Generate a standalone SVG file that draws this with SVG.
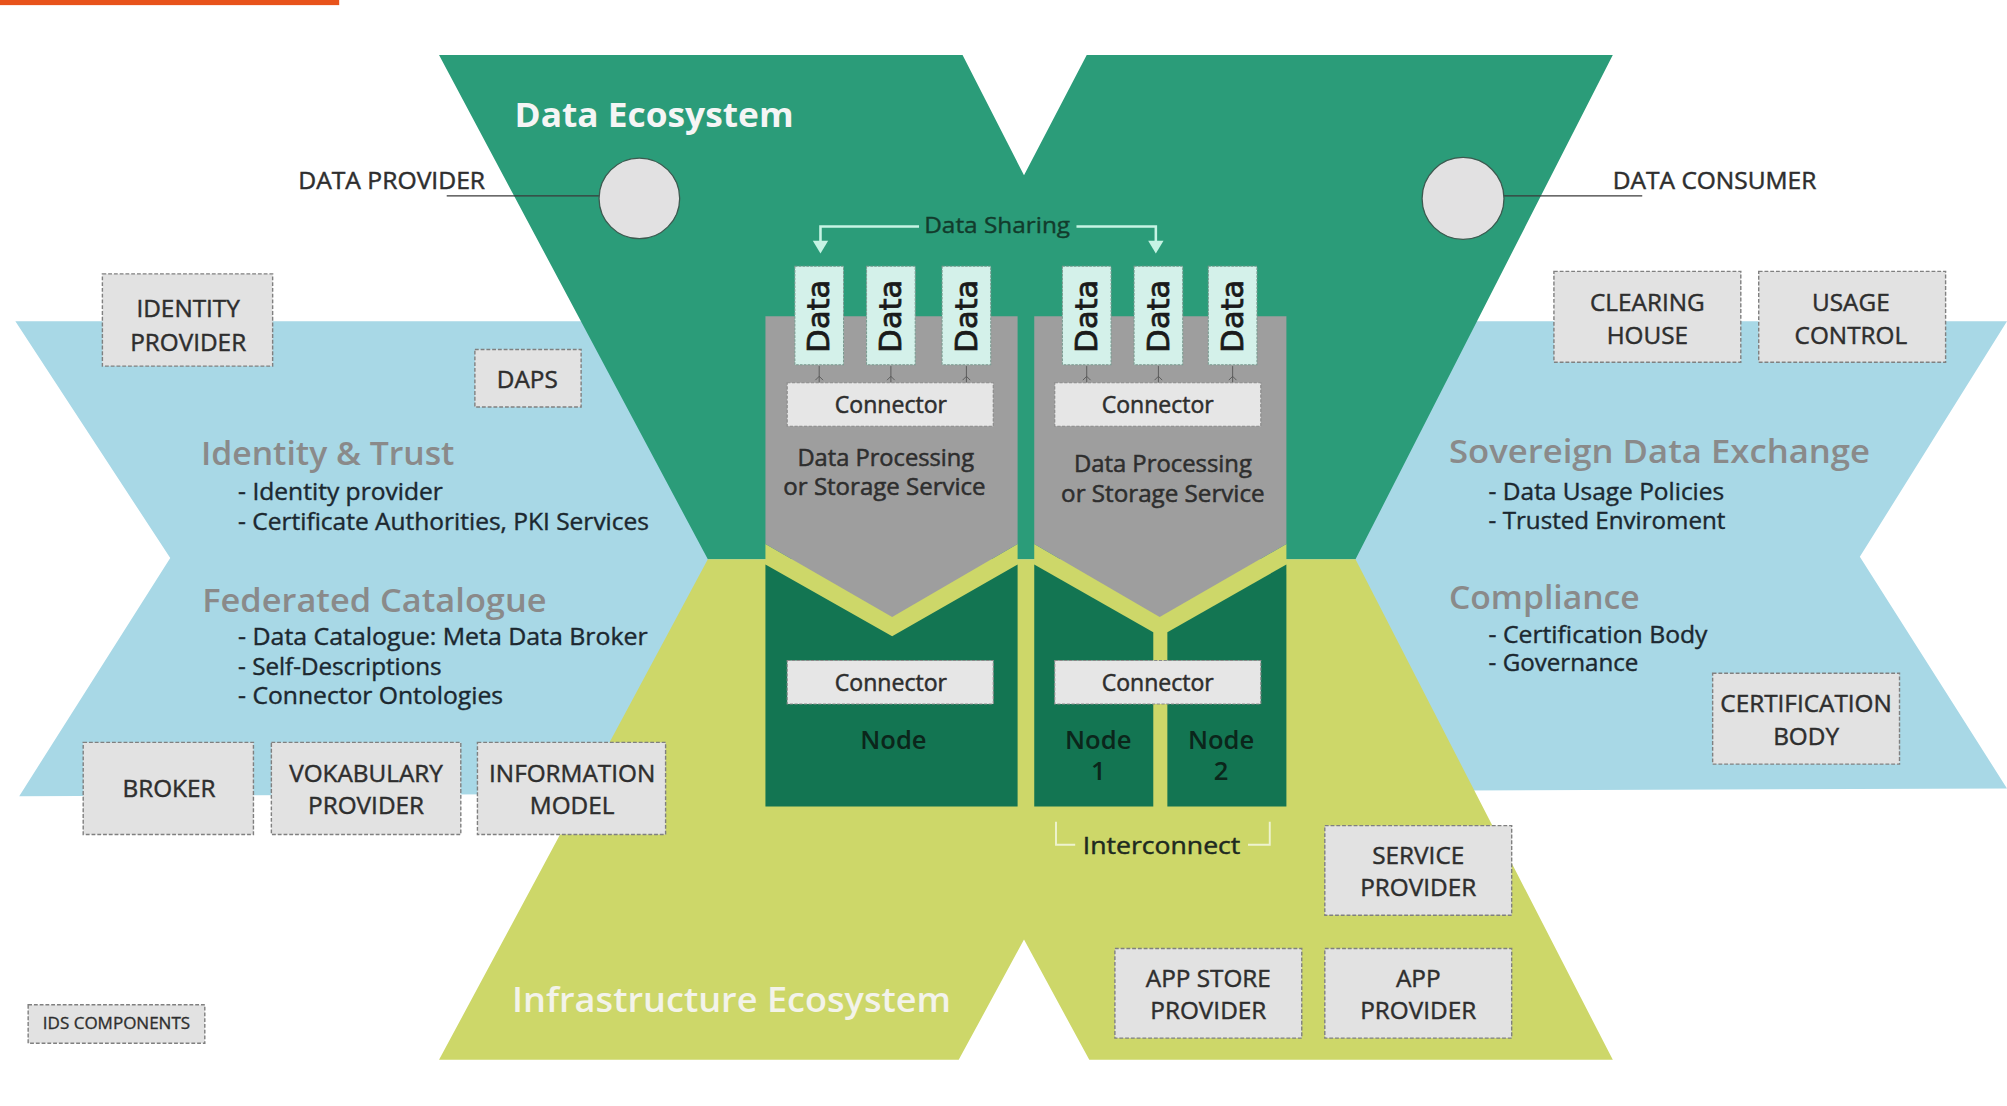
<svg xmlns="http://www.w3.org/2000/svg" width="2007" height="1106" viewBox="0 0 2007 1106">
<style>
text{font-family:"Open Sans","Liberation Sans",sans-serif}
.box{fill:#e2e2e2;stroke:#808080;stroke-width:1.1;stroke-dasharray:3 1.5}
.bl{font-size:19px;fill:#2e2e2e;stroke:#2e2e2e;stroke-width:0.35;text-anchor:middle}
.hd{font-size:25px;font-weight:600;fill:#8a8a8a}
.bu{font-size:18px;fill:#1c2830;stroke:#1c2830;stroke-width:0.3}
.ctr{font-size:18px;fill:#2e2e2e;stroke:#2e2e2e;stroke-width:0.4;text-anchor:middle}
.cell{fill:#d4f1ea;stroke:#7a9a90;stroke-width:0.8;stroke-dasharray:2 1}
.dt{font-family:"DejaVu Sans",sans-serif;font-size:23px;fill:#1a1a1a;stroke:#1a1a1a;stroke-width:0.6;text-anchor:middle}
.node{font-size:20px;font-weight:600;fill:#0b261b;text-anchor:middle}
.conbox{fill:#e6e6e6;stroke:#8a8a8a;stroke-width:0.9;stroke-dasharray:2.5 1.2}
.lead{stroke:#3a3a3a;stroke-width:0.9;fill:none}
.share{stroke:#c6f3e4;stroke-width:2;fill:none}
.tiny{stroke:#555;stroke-width:0.7;fill:none}
</style>
<rect width="2007" height="1106" fill="#ffffff"/>
<g transform="scale(1.28)">
<g id="background">
<rect x="0" y="0" width="265" height="4" fill="#e8531b"/>
<polygon points="12,251 1568,251 1453,435 1568,616 15,622 133,436" fill="#a8d8e6"/>
<polygon points="343,43 752,43 800,137 849,43 1260,43 1059,437 553,437" fill="#2b9c79"/>
<polygon points="553,437 1059,437 1260,828 851,828 800,734 749,828 343,828" fill="#cdd769"/>
<text x="402" y="99" font-size="27" font-weight="700" fill="#f5f5f5" textLength="218" lengthAdjust="spacingAndGlyphs">Data Ecosystem</text>
<text x="400" y="791" font-size="27" font-weight="600" fill="#f3f3ea" textLength="343" lengthAdjust="spacingAndGlyphs">Infrastructure Ecosystem</text>
</g>
<g id="connectors">
<line class="lead" x1="349" y1="153" x2="468" y2="153"/>
<line class="lead" x1="1175" y1="153" x2="1283" y2="153"/>
<path class="share" d="M718,177 H641 V190 M841,177 H903 V190"/>
<polygon points="635,188 647,188 641,198" fill="#c6f3e4"/>
<polygon points="897,188 909,188 903,198" fill="#c6f3e4"/>
<path d="M825,642 V660 H840 M975,660 H992 V642" stroke="#eef3cf" stroke-width="1.5" fill="none"/>
</g>
<g id="data-provider">
<circle cx="499.5" cy="155" r="31.5" fill="#e2e1e2" stroke="#3d5a50" stroke-width="1"/>
<text x="233" y="148" font-size="18" fill="#2e2e2e" stroke="#2e2e2e" stroke-width="0.35" textLength="146" lengthAdjust="spacingAndGlyphs">DATA PROVIDER</text>
</g>
<g id="data-consumer">
<circle cx="1143" cy="155" r="32" fill="#e2e1e2" stroke="#3d5a50" stroke-width="1"/>
<text x="1260" y="148" font-size="18" fill="#2e2e2e" stroke="#2e2e2e" stroke-width="0.35" textLength="159" lengthAdjust="spacingAndGlyphs">DATA CONSUMER</text>
</g>
<g id="identity-trust">
<text class="hd" x="157" y="363" textLength="198" lengthAdjust="spacingAndGlyphs">Identity &amp; Trust</text>
<text class="bu" x="186" y="391" textLength="160" lengthAdjust="spacingAndGlyphs">- Identity provider</text>
<text class="bu" x="186" y="414" textLength="321" lengthAdjust="spacingAndGlyphs">- Certificate Authorities, PKI Services</text>
</g>
<g id="federated-catalogue">
<text class="hd" x="158" y="478" textLength="269" lengthAdjust="spacingAndGlyphs">Federated Catalogue</text>
<text class="bu" x="186" y="504" textLength="320" lengthAdjust="spacingAndGlyphs">- Data Catalogue: Meta Data Broker</text>
<text class="bu" x="186" y="527" textLength="159" lengthAdjust="spacingAndGlyphs">- Self-Descriptions</text>
<text class="bu" x="186" y="550" textLength="207" lengthAdjust="spacingAndGlyphs">- Connector Ontologies</text>
</g>
<g id="sovereign-data-exchange">
<text class="hd" x="1132" y="362" textLength="329" lengthAdjust="spacingAndGlyphs">Sovereign Data Exchange</text>
<text class="bu" x="1163" y="391" textLength="184" lengthAdjust="spacingAndGlyphs">- Data Usage Policies</text>
<text class="bu" x="1163" y="413" textLength="185" lengthAdjust="spacingAndGlyphs">- Trusted Enviroment</text>
</g>
<g id="compliance">
<text class="hd" x="1132" y="476" textLength="149" lengthAdjust="spacingAndGlyphs">Compliance</text>
<text class="bu" x="1163" y="502" textLength="171" lengthAdjust="spacingAndGlyphs">- Certification Body</text>
<text class="bu" x="1163" y="524" textLength="117" lengthAdjust="spacingAndGlyphs">- Governance</text>
</g>
<g id="identity-provider"><rect class="box" x="80" y="214" width="133" height="72"/><text class="bl" x="147" y="248">IDENTITY</text><text class="bl" x="147" y="274">PROVIDER</text></g>
<g id="daps"><rect class="box" x="371" y="273" width="83" height="45"/><text class="bl" x="412" y="303">DAPS</text></g>
<g id="clearing-house"><rect class="box" x="1214" y="212" width="146" height="71"/><text class="bl" x="1287" y="243">CLEARING</text><text class="bl" x="1287" y="269">HOUSE</text></g>
<g id="usage-control"><rect class="box" x="1374" y="212" width="146" height="71"/><text class="bl" x="1446" y="243">USAGE</text><text class="bl" x="1446" y="269">CONTROL</text></g>
<g id="certification-body"><rect class="box" x="1338" y="526" width="146" height="71"/><text class="bl" x="1411" y="556">CERTIFICATION</text><text class="bl" x="1411" y="582">BODY</text></g>
<g id="broker"><rect class="box" x="65" y="580" width="133" height="72"/><text class="bl" x="132" y="623">BROKER</text></g>
<g id="vokabulary-provider"><rect class="box" x="212" y="580" width="148" height="72"/><text class="bl" x="286" y="611">VOKABULARY</text><text class="bl" x="286" y="636">PROVIDER</text></g>
<g id="information-model"><rect class="box" x="373" y="580" width="147" height="72"/><text class="bl" x="447" y="611">INFORMATION</text><text class="bl" x="447" y="636">MODEL</text></g>
<g id="service-provider"><rect class="box" x="1035" y="645" width="146" height="70"/><text class="bl" x="1108" y="675">SERVICE</text><text class="bl" x="1108" y="700">PROVIDER</text></g>
<g id="app-store-provider"><rect class="box" x="871" y="741" width="146" height="70"/><text class="bl" x="944" y="771">APP STORE</text><text class="bl" x="944" y="796">PROVIDER</text></g>
<g id="app-provider"><rect class="box" x="1035" y="741" width="146" height="70"/><text class="bl" x="1108" y="771">APP</text><text class="bl" x="1108" y="796">PROVIDER</text></g>
<g id="ids-components"><rect class="box" x="22" y="785" width="138" height="30"/><text class="bl" x="91" y="804" textLength="115" lengthAdjust="spacingAndGlyphs" style="font-size:12.5px;stroke-width:0.25">IDS COMPONENTS</text></g>
<g id="service-left">
<polygon points="598,425 697,482 795,425 795,441 697,497 598,441" fill="#cdd769"/>
<polygon points="598,247 795,247 795,425 697,482 598,425" fill="#9e9e9e"/>
<rect class="cell" x="621" y="208" width="38" height="77"/>
<rect class="cell" x="677" y="208" width="38" height="77"/>
<rect class="cell" x="736" y="208" width="38" height="77"/>
<text class="dt" transform="translate(648,247) rotate(-90)" textLength="57" lengthAdjust="spacingAndGlyphs">Data</text>
<text class="dt" transform="translate(704,247) rotate(-90)" textLength="57" lengthAdjust="spacingAndGlyphs">Data</text>
<text class="dt" transform="translate(763,247) rotate(-90)" textLength="57" lengthAdjust="spacingAndGlyphs">Data</text>
<path class="tiny" d="M640,286 V299 M637,297 L640,294 L643,297 M696,286 V299 M693,297 L696,294 L699,297 M755,286 V299 M752,297 L755,294 L758,297"/>
<rect class="conbox" x="615" y="299" width="161" height="34"/>
<text class="ctr" x="696" y="323">Connector</text>
<text class="ctr" x="692" y="364" textLength="138" lengthAdjust="spacingAndGlyphs">Data Processing</text>
<text class="ctr" x="691" y="387" textLength="158" lengthAdjust="spacingAndGlyphs">or Storage Service</text>
</g>
<g id="service-right">
<polygon points="808,425 906,482 1005,425 1005,441 906,497 808,441" fill="#cdd769"/>
<polygon points="808,247 1005,247 1005,425 906,482 808,425" fill="#9e9e9e"/>
<rect class="cell" x="830" y="208" width="38" height="77"/>
<rect class="cell" x="886" y="208" width="38" height="77"/>
<rect class="cell" x="944" y="208" width="38" height="77"/>
<text class="dt" transform="translate(857,247) rotate(-90)" textLength="57" lengthAdjust="spacingAndGlyphs">Data</text>
<text class="dt" transform="translate(913,247) rotate(-90)" textLength="57" lengthAdjust="spacingAndGlyphs">Data</text>
<text class="dt" transform="translate(971,247) rotate(-90)" textLength="57" lengthAdjust="spacingAndGlyphs">Data</text>
<path class="tiny" d="M849,286 V299 M846,297 L849,294 L852,297 M905,286 V299 M902,297 L905,294 L908,297 M963,286 V299 M960,297 L963,294 L966,297"/>
<rect class="conbox" x="824" y="299" width="161" height="34"/>
<text class="ctr" x="904.5" y="323">Connector</text>
<text class="ctr" x="908.5" y="369" textLength="139" lengthAdjust="spacingAndGlyphs">Data Processing</text>
<text class="ctr" x="908.5" y="392" textLength="159" lengthAdjust="spacingAndGlyphs">or Storage Service</text>
</g>
<g id="node-left">
<polygon points="598,441 697,497 795,441 795,630 598,630" fill="#137552"/>
<rect class="conbox" x="615" y="516" width="161" height="34"/>
<text class="ctr" x="696" y="540">Connector</text>
<text class="node" x="698" y="585">Node</text>
</g>
<g id="node-1">
<polygon points="808,441 901,494 901,630 808,630" fill="#137552"/>
<text class="node" x="858" y="585">Node</text>
<text class="node" x="858" y="609">1</text>
</g>
<g id="node-2">
<polygon points="912,494 1005,441 1005,630 912,630" fill="#137552"/>
<text class="node" x="954" y="585">Node</text>
<text class="node" x="954" y="609">2</text>
</g>
<g id="node-connector-right">
<rect class="conbox" x="824" y="516" width="161" height="34"/>
<text class="ctr" x="904.5" y="540">Connector</text>
</g>
<g id="interconnect">
<text x="846" y="667" font-size="18" fill="#1e2a20" stroke="#1e2a20" stroke-width="0.35" textLength="123" lengthAdjust="spacingAndGlyphs">Interconnect</text>
</g>
<g id="data-sharing">
<text x="722" y="182" font-size="17" fill="#123b2c" stroke="#123b2c" stroke-width="0.3" textLength="114" lengthAdjust="spacingAndGlyphs">Data Sharing</text>
</g>
</g>
</svg>
